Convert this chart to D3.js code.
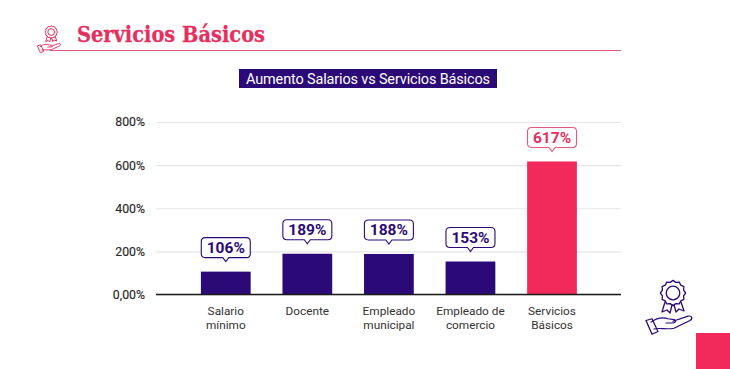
<!DOCTYPE html>
<html><head><meta charset="utf-8">
<script src="https://cdn.jsdelivr.net/npm/d3@7/dist/d3.min.js"></script>
<style>html,body{margin:0;padding:0;background:#fff;overflow:hidden}svg{display:block}text{font-family:Roboto,sans-serif}</style>
</head><body><svg id="c" width="730" height="369"></svg>
<script>
const categories=[["Salario","mínimo"],["Docente"],["Empleado","municipal"],["Empleado de","comercio"],["Servicios","Básicos"]];
const values=[106,189,188,153,617];
const labels=["106%","189%","188%","153%","617%"];
const tickValues=[0,200,400,600,800];
const tickLabels=["0,00%","200%","400%","600%","800%"];
const barColors=["#2b0a78","#2b0a78","#2b0a78","#2b0a78","#f22a5c"];
const pageTitle="Servicios Básicos";
const chartTitle="Aumento Salarios vs Servicios Básicos";
const svg=d3.select("#c");
const pink="#e4305f",navy="#2b0a78";
const x=d3.scaleBand().domain(d3.range(values.length)).range([185,592.8]).paddingInner(0.39).paddingOuter(0.195);
const y=d3.scaleLinear().domain([0,800]).range([294.5,122]);
// header
svg.append("text").attr("x",77).attr("y",42).attr("font-size",23).attr("font-weight",700)
  .style("font-family","'DejaVu Serif'").attr("fill",pink).attr("stroke",pink).attr("stroke-width",0.3).attr("textLength",188).attr("lengthAdjust","spacingAndGlyphs").text(pageTitle);
svg.append("line").attr("x1",50).attr("x2",621).attr("y1",50.5).attr("y2",50.5).attr("stroke","#e8587c").attr("stroke-width",1.2);
// chart title
svg.append("rect").attr("x",239).attr("y",69).attr("width",258).attr("height",19).attr("fill",navy);
svg.append("text").attr("x",246).attr("y",83.5).attr("font-size",14.5).attr("fill","#fff").attr("textLength",244).text(chartTitle);
// grid + axis
const yAxis=d3.axisLeft(y).tickValues(tickValues).tickSize(-465).tickPadding(11).tickFormat((d,i)=>tickLabels[i]);
const gy=svg.append("g").attr("transform","translate(156,0)").call(yAxis);
gy.select(".domain").remove();
gy.selectAll("line").attr("stroke","#e6e6e6").attr("stroke-width",1.2);
gy.selectAll("text").attr("font-size",12.3).attr("fill","#2a2a2a").attr("font-weight",400).attr("stroke","#2a2a2a").attr("stroke-width",0.15);
// bars
svg.selectAll("rect.bar").data(values).join("rect").attr("class","bar")
  .attr("x",(d,i)=>x(i)).attr("width",x.bandwidth()).attr("y",d=>y(d)).attr("height",d=>y(0)-y(d)).attr("fill",(d,i)=>barColors[i]);
svg.append("line").attr("x1",156).attr("x2",621).attr("y1",y(0)).attr("y2",y(0)).attr("stroke","#1a1a1a").attr("stroke-width",1.4);
// x labels via axis
const xAxis=d3.axisBottom(x).tickSize(0).tickFormat("");
const gx=svg.append("g").attr("transform",`translate(0,${y(0)})`).call(xAxis);
gx.select(".domain").remove();
gx.selectAll(".tick").each(function(d,i){
  const t=d3.select(this).select("text").attr("y",0).attr("dy",null).attr("font-size",11.8).attr("fill","#333");
  categories[i].forEach((s,j)=>t.append("tspan").attr("x",0).attr("y",20+j*14).text(s));
});
// callouts
const w=49,h=20,g=10;
const gc=svg.selectAll("g.call").data(values).join("g").attr("class","call")
  .attr("transform",(d,i)=>`translate(${x(i)+x.bandwidth()/2},${y(d)-g})`);
gc.append("path").attr("fill","#fff").attr("stroke",(d,i)=>i==4?"#e8587c":navy).attr("stroke-width",1.1)
  .attr("d",`M-3,-4 L0,0 L3,-4 H${w/2-4} Q${w/2},-4 ${w/2},-8 V${-4-h+4} Q${w/2},${-4-h} ${w/2-4},${-4-h} H${-w/2+4} Q${-w/2},${-4-h} ${-w/2},${-4-h+4} V-8 Q${-w/2},-4 ${-w/2+4},-4 Z`);
gc.append("text").attr("text-anchor","middle").attr("y",-8.5).attr("font-size",15.5).attr("font-weight",700)
  .attr("fill",(d,i)=>i==4?pink:navy).text((d,i)=>labels[i]);
// decorative icon
function icon(tx,ty,s,col,sw){
  const n=svg.append("g").attr("transform",`translate(${tx},${ty}) scale(${s})`).attr("fill","none").attr("stroke",col).attr("stroke-width",sw).attr("stroke-linejoin","round").attr("stroke-linecap","round");
  const top=n.append("g").attr("transform","translate(5,0)");
  top.append("path").attr("d",d3.range(0,24).map(i=>{const a=i*Math.PI/12,r=i%2?11:12.6;return (i?"L":"M")+(r*Math.sin(a)).toFixed(1)+","+(r*Math.cos(a)-24).toFixed(1)}).join("")+"Z");
  top.append("circle").attr("cy",-24).attr("r",6.8);
  top.append("path").attr("d","M-8,-15 L-11,-5 L-6,-7 L-3,-4 L-1,-12 M8,-15 L11,-6 L6,-8 L3,-5 L1,-12");
  const hand=n.append("g").attr("transform","translate(0,0) scale(1,0.86)");
  hand.append("path").attr("d","M-17,6 C-10,0 -5,0 0,2 L6,3 C9,5 7,7 4,7 L-2,7 M5,5 L20,-1 C24,-2 25,2 22,4 L6,13 C-2,15 -8,12 -14,14");
  hand.append("path").attr("d","M-22,4 L-16,2 L-10,17 L-16,20 Z");
}
icon(668,317,1,navy,1.3);
icon(48.75,44,0.5,pink,2);
svg.append("rect").attr("x",696).attr("y",333).attr("width",34).attr("height",36).attr("fill","#f22a5c");
</script></body></html>
